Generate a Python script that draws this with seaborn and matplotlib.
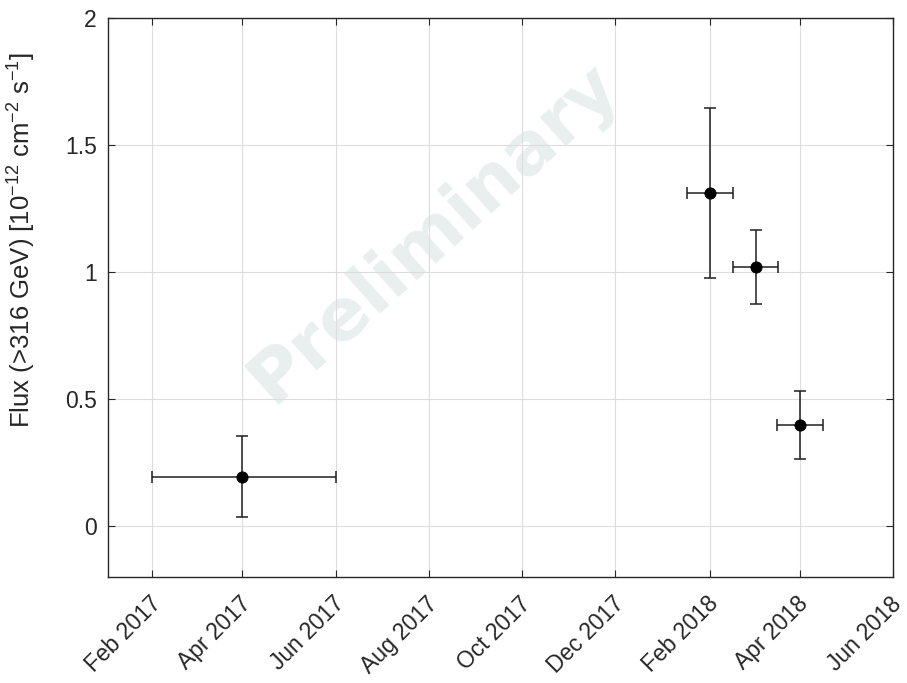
import matplotlib
matplotlib.use("Agg")
import matplotlib.pyplot as plt
import matplotlib.dates as mdates
import matplotlib.transforms as mtransforms
import seaborn as sns
import pandas as pd
import datetime as dt

# ---- data ----
dates = ["2017-04-01", "2018-02-01", "2018-03-03", "2018-04-01"]
flux = [0.195, 1.311, 1.020, 0.399]
flux_err = [0.160, 0.335, 0.147, 0.134]
x_lo = ["2017-02-01", "2018-01-17", "2018-02-16", "2018-03-17"]
x_hi = ["2017-06-01", "2018-02-16", "2018-03-18", "2018-04-16"]
tick_dates = ["2017-02-01", "2017-04-01", "2017-06-01", "2017-08-01", "2017-10-01",
              "2017-12-01", "2018-02-01", "2018-04-01", "2018-06-01"]
y_ticks = [0, 0.5, 1, 1.5, 2]
y_ticklabels = ["0", "0.5", "1", "1.5", "2"]

sns.set_style("white")
plt.rcParams['font.family'] = ['Liberation Sans', 'DejaVu Sans']
plt.rcParams['mathtext.fontset'] = 'custom'
plt.rcParams['mathtext.rm'] = 'Liberation Sans'
plt.rcParams['mathtext.it'] = 'Liberation Sans'
plt.rcParams['mathtext.default'] = 'regular'

TXT = '#262626'

x = mdates.date2num(pd.to_datetime(dates))
xl = mdates.date2num(pd.to_datetime(x_lo))
xh = mdates.date2num(pd.to_datetime(x_hi))
df = pd.DataFrame({"date": x, "flux": flux})

fig = plt.figure(figsize=(9.07, 6.83), dpi=100)
ax = fig.add_axes([108/907, 1-577/683, (893-108)/907, (577-18)/683])

# watermark
ax.text(0.415, 0.615, "Preliminary", transform=ax.transAxes, rotation=42,
        fontsize=52, fontweight='bold', color='#e9eeee', ha='center', va='center',
        family=['DejaVu Sans'], zorder=0)

ax.errorbar(x, flux, yerr=flux_err, xerr=[x - xl, xh - x], fmt='none',
            ecolor='#1f1f1f', elinewidth=1.1, capsize=4, capthick=1.1, zorder=3)
sns.scatterplot(data=df, x="date", y="flux", ax=ax, color='black', s=65,
                edgecolor='black', zorder=4)

ax.set_xlim(mdates.date2num(dt.datetime(2017, 1, 3)), mdates.date2num(dt.datetime(2018, 6, 1)))
ax.set_ylim(-0.2, 2)
tk = mdates.date2num(pd.to_datetime(tick_dates))
ax.set_xticks(tk)
ax.set_xticklabels([pd.Timestamp(d).strftime("%b %Y") for d in tick_dates],
                   rotation=45, ha='right', va='top', rotation_mode='anchor')
ax.set_yticks(y_ticks)
ax.set_yticklabels(y_ticklabels)
ax.grid(True, color='#dcdcdc', linewidth=0.8, zorder=1)
ax.set_axisbelow(True)
ax.set_xlabel("")
ax.set_ylabel(r"Flux (>316 GeV) [10$^{-12}$ cm$^{-2}$ s$^{-1}$]", fontsize=18.5, color=TXT)
ax.yaxis.set_label_coords(-0.089, 0.603)
ax.tick_params(axis='both', direction='in', length=5, width=0.8, colors=TXT,
               labelsize=16.5, top=True, right=True, bottom=True, left=True)
ax.tick_params(axis='x', pad=11)
ax.tick_params(axis='y', pad=8)
offset = mtransforms.ScaledTranslation(-3/100, 0, fig.dpi_scale_trans)
for lab in ax.get_xticklabels():
    lab.set_color(TXT)
    lab.set_transform(lab.get_transform() + offset)
for s in ax.spines.values():
    s.set_color(TXT)
    s.set_linewidth(1.0)

fig.savefig("out.png", dpi=100)
